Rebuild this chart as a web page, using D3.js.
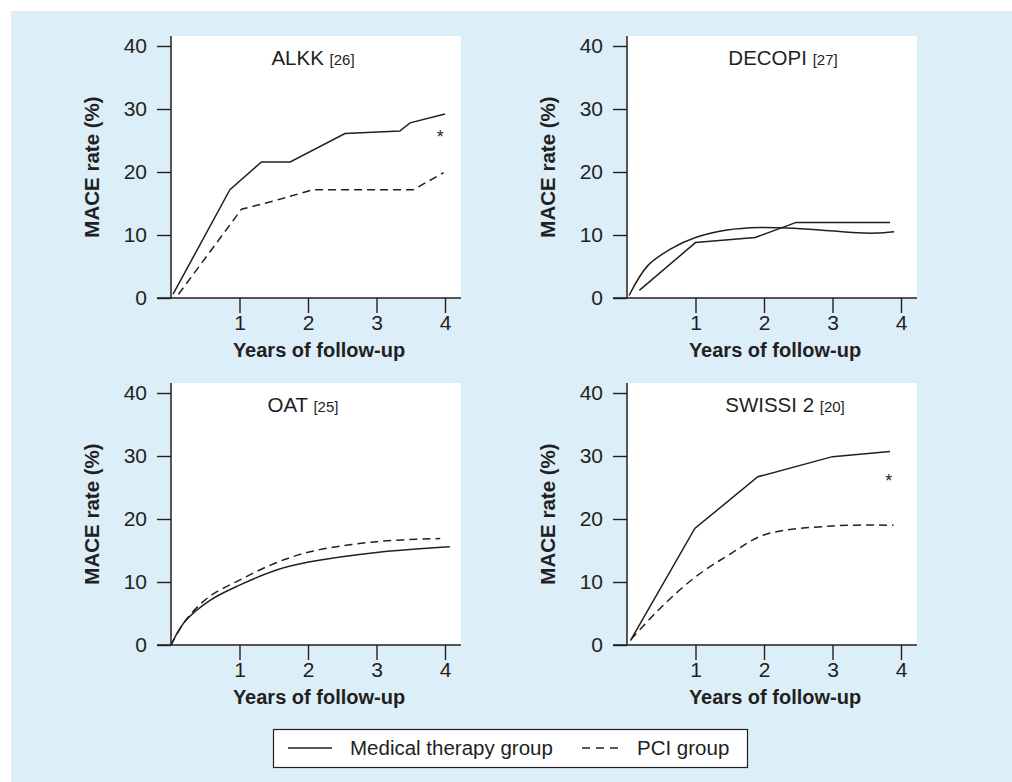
<!DOCTYPE html>
<html>
<head>
<meta charset="utf-8">
<script src="https://cdn.jsdelivr.net/npm/d3@7/dist/d3.min.js"></script>
<style>
  html, body { margin: 0; padding: 0; background: #ffffff; }
  svg { display: block; font-family: "Liberation Sans", Arial, Helvetica, sans-serif; }
</style>
</head>
<body>
<svg id="chart" width="1012" height="782"></svg>
<script>
// ---------- data ----------
const yTicks = [0, 10, 20, 30, 40];
const xTicks = [1, 2, 3, 4];
const yLabel = "MACE rate (%)";
const xLabel = "Years of follow-up";
const legendLabels = ["Medical therapy group", "PCI group"];

// ALKK [26]
const alkkMedical = [[0.03,0.6],[0.86,17.2],[1.32,21.6],[1.74,21.6],[2.54,26.1],[3.34,26.5],[3.49,27.8],[4.0,29.2]];
const alkkPCI = [[0.11,0.6],[1.03,14.1],[1.5,15.4],[2.08,17.2],[3.54,17.2],[3.98,19.9]];
// DECOPI [27] (both drawn solid)
const decopiA = [[0.03,0.4],[0.3,5.1],[0.64,7.8],[1.0,9.6],[1.46,10.8],[1.94,11.2],[2.33,11.1],[2.81,10.8],[3.29,10.4],[3.63,10.3],[3.9,10.5]];
const decopiB = [[0.18,1.2],[1.0,8.8],[1.87,9.6],[2.47,12.0],[3.84,12.0]];
// OAT [25]
const oatMedical = [[0,0],[0.2,3.7],[0.57,7.1],[1.0,9.5],[1.54,11.9],[2.03,13.2],[3.0,14.7],[4.07,15.6]];
const oatPCI = [[0,0],[0.22,4.0],[0.55,7.6],[1.0,10.3],[1.5,12.9],[2.03,14.8],[3.0,16.4],[3.93,16.9]];
// SWISSI 2 [20]
const swissiMedical = [[0.05,0.7],[0.99,18.5],[1.91,26.7],[3.0,29.9],[3.84,30.7]];
const swissiPCI = [[0.06,0.9],[0.5,6.0],[1.0,10.8],[1.53,14.6],[2.01,17.5],[3.0,18.9],[3.89,19.0]];

const titles = ["ALKK", "DECOPI", "OAT", "SWISSI 2"];
const refs = ["[26]", "[27]", "[25]", "[20]"];
const asterisks = [[3.93, 26.2], null, null, [3.82, 26.7]];

// ---------- layout ----------
const ink = "#231f20";
const svg = d3.select("#chart");
svg.append("rect").attr("x", 11).attr("y", 11).attr("width", 1001).attr("height", 771).attr("fill", "#dcEEf8");

const panels = [
  { axisX: 171, y0: 298, titleX: 313, series: [[alkkMedical, "solid", "linear"], [alkkPCI, "dash", "linear"]] },
  { axisX: 627, y0: 298, titleX: 783, series: [[decopiA, "solid", "smooth"], [decopiB, "solid", "linear"]] },
  { axisX: 171, y0: 645, titleX: 303, series: [[oatMedical, "solid", "smooth"], [oatPCI, "dash", "smooth"]] },
  { axisX: 627, y0: 645, titleX: 785, series: [[swissiMedical, "solid", "linear"], [swissiPCI, "dash", "smooth"]] }
];

panels.forEach((p, i) => {
  const x = d3.scaleLinear().domain([0, 4]).range([p.axisX, p.axisX + 274]);
  const y = d3.scaleLinear().domain([0, 40]).range([p.y0, p.y0 - 252]);
  const top = y(40) - 10;
  const right = p.axisX + 290;
  const g = svg.append("g");

  g.append("rect").attr("x", p.axisX).attr("y", top)
    .attr("width", right - p.axisX).attr("height", p.y0 - top).attr("fill", "#ffffff");

  // y axis
  const ya = g.append("g").attr("transform", `translate(${p.axisX},0)`)
    .call(d3.axisLeft(y).tickValues(yTicks).tickFormat(d3.format("d")).tickSize(14).tickPadding(10));
  ya.select(".domain").remove();
  ya.selectAll("line").attr("stroke", ink).attr("stroke-width", 1.4);
  ya.selectAll("text").attr("fill", ink).attr("font-size", 21)
    .attr("font-family", "'Liberation Sans', Arial, sans-serif");

  // x axis
  const xa = g.append("g").attr("transform", `translate(0,${p.y0})`)
    .call(d3.axisBottom(x).tickValues(xTicks).tickFormat(d3.format("d")).tickSize(15).tickPadding(2));
  xa.select(".domain").remove();
  xa.selectAll("line").attr("stroke", ink).attr("stroke-width", 1.4);
  xa.selectAll("text").attr("fill", ink).attr("font-size", 21)
    .attr("font-family", "'Liberation Sans', Arial, sans-serif");

  g.append("line").attr("x1", p.axisX).attr("x2", p.axisX).attr("y1", top).attr("y2", p.y0)
    .attr("stroke", ink).attr("stroke-width", 1.5);
  g.append("line").attr("x1", p.axisX - 14).attr("x2", right).attr("y1", p.y0).attr("y2", p.y0)
    .attr("stroke", ink).attr("stroke-width", 1.5);

  // labels
  g.append("text").attr("x", (p.axisX + right) / 2 + 3).attr("y", p.y0 + 59)
    .attr("text-anchor", "middle").attr("font-size", 20).attr("font-weight", "bold")
    .attr("fill", ink).text(xLabel);
  g.append("text").attr("transform", `translate(${p.axisX - 72},${(top + p.y0) / 2}) rotate(-90)`)
    .attr("text-anchor", "middle").attr("font-size", 20.5).attr("font-weight", "bold")
    .attr("fill", ink).text(yLabel);

  // title
  const t = g.append("text").attr("x", p.titleX).attr("y", y(40) + 19)
    .attr("text-anchor", "middle").attr("fill", ink);
  t.append("tspan").attr("font-size", 20.5).text(titles[i] + " ");
  t.append("tspan").attr("font-size", 15).text(refs[i]);

  // series
  p.series.forEach(([data, style, kind]) => {
    const line = d3.line().x(d => x(d[0])).y(d => y(d[1]))
      .curve(kind === "smooth" ? d3.curveCatmullRom.alpha(0.5) : d3.curveLinear);
    g.append("path").datum(data).attr("d", line)
      .attr("fill", "none").attr("stroke", ink).attr("stroke-width", 1.5)
      .attr("stroke-dasharray", style === "dash" ? "8,5" : null);
  });

  if (asterisks[i]) {
    g.append("text").attr("x", x(asterisks[i][0])).attr("y", y(asterisks[i][1]) + 10)
      .attr("text-anchor", "middle").attr("font-size", 18).attr("fill", ink).text("*");
  }
});

// legend
const lg = svg.append("g");
lg.append("rect").attr("x", 273.5).attr("y", 729.5).attr("width", 474).attr("height", 38)
  .attr("fill", "#ffffff").attr("stroke", ink).attr("stroke-width", 1.2);
lg.append("line").attr("x1", 288).attr("x2", 332).attr("y1", 748).attr("y2", 748)
  .attr("stroke", ink).attr("stroke-width", 1.5);
lg.append("text").attr("x", 350).attr("y", 755).attr("font-size", 20.5).attr("fill", ink).text(legendLabels[0]);
lg.append("line").attr("x1", 582).attr("x2", 622).attr("y1", 748).attr("y2", 748)
  .attr("stroke", ink).attr("stroke-width", 1.5).attr("stroke-dasharray", "8,6");
lg.append("text").attr("x", 637).attr("y", 755).attr("font-size", 20.5).attr("fill", ink).text(legendLabels[1]);
</script>
</body>
</html>
